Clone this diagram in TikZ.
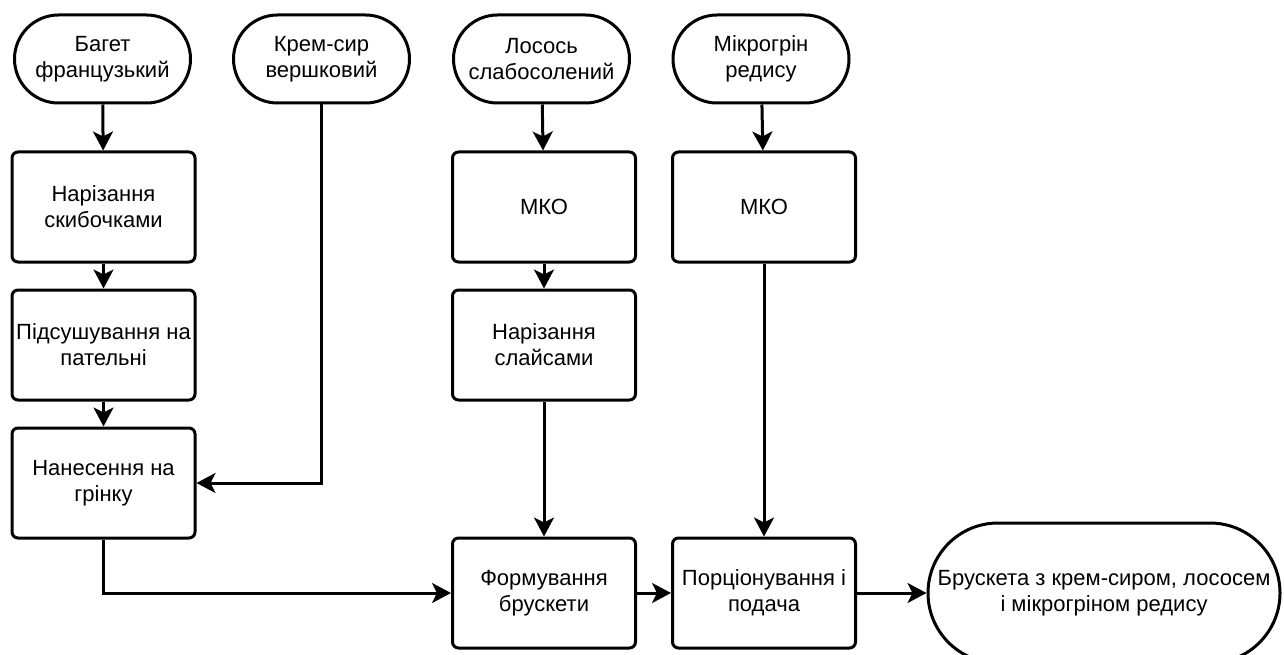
\documentclass[tikz,border=0pt]{standalone}
\usepackage{fontspec}
\setmainfont{Liberation Sans}
\usetikzlibrary{arrows.meta}
\begin{document}
\begin{tikzpicture}[x=1pt,y=-1pt,
  txt/.style={align=center, font=\fontsize{22}{26}\selectfont, inner sep=0pt, text=black},
  proc/.style={txt, draw, line width=3pt, rounded corners=6pt, minimum width=183pt, minimum height=110pt},
  term/.style={txt, draw, line width=3pt, rounded corners=44pt, minimum width=176pt, minimum height=88pt},
  conn/.style={line width=3pt, -{Stealth[length=19pt,width=20pt,inset=5pt]}}
]
\useasboundingbox (0,0) rectangle (1284,655);
\begin{scope}
\clip (0,0) rectangle (1284,655);
% terminators
\node[term] (t1) at (102.5,59) {Багет\\французький};
\node[term] (t2) at (321.5,59) {Крем-сир\\вершковий};
\node[term] (t3) at (541.5,59) {Лосось\\слабосолений};
\node[term] (t4) at (761,59) {Мікрогрін\\редису};
% column 1
\node[proc] (p1) at (103.5,207) {Нарізання\\скибочками};
\node[proc] (p2) at (103.5,345) {Підсушування на\\пательні};
\node[proc] (p3) at (103.5,483) {Нанесення на\\грінку};
% column 3
\node[proc] (m1) at (544,207) {МКО};
\node[proc] (s1) at (544,345) {Нарізання\\слайсами};
\node[proc] (f1) at (544,593) {Формування\\брускети};
% column 4
\node[proc] (m2) at (764,207) {МКО};
\node[proc] (pp) at (764,593) {Порціонування і\\подача};
% final
\node[txt, draw, line width=3pt, rounded corners=70pt, minimum width=352pt, minimum height=140pt] (fin) at (1104,593) {Брускета з крем-сиром, лососем\\і мікрогріном редису};
% connectors
\draw[conn] (t1) -- (p1);
\draw[conn] (p1) -- (p2);
\draw[conn] (p2) -- (p3);
\draw[conn] (t2.south) |- (p3.east);
\draw[conn] (p3.south) |- (f1.west);
\draw[conn] (t3) -- (m1);
\draw[conn] (m1) -- (s1);
\draw[conn] (s1) -- (f1);
\draw[conn] (t4) -- (m2);
\draw[conn] (m2) -- (pp);
\draw[conn] (f1) -- (pp);
\draw[conn] (pp) -- (fin);
\end{scope}
\end{tikzpicture}
\end{document}
